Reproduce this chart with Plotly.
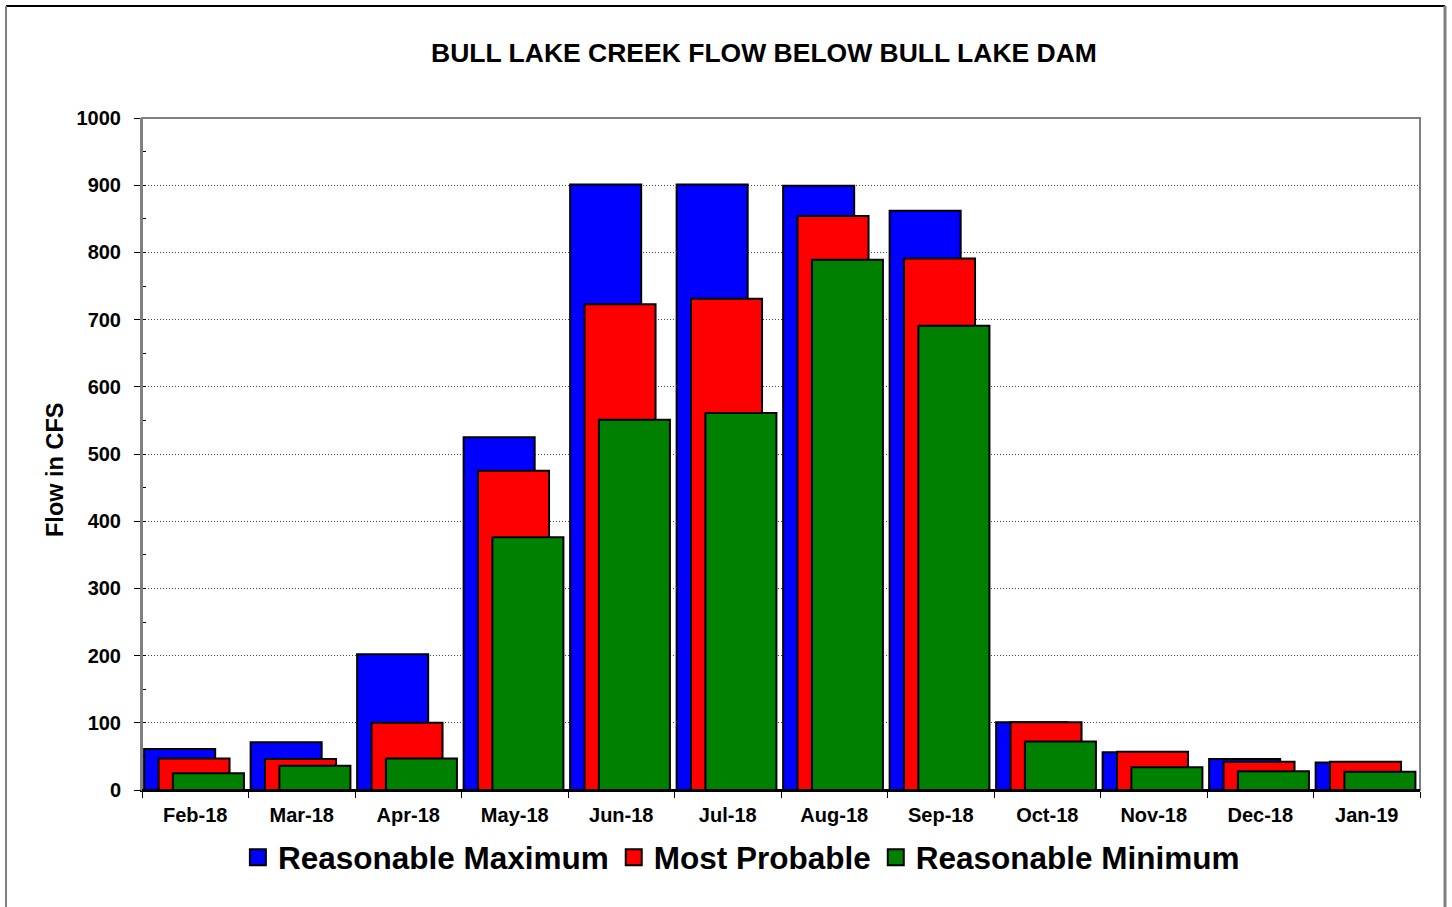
import plotly.graph_objects as go

# Monthly flow forecast, Bull Lake Creek below Bull Lake Dam (cfs)
months = ["Feb-18", "Mar-18", "Apr-18", "May-18", "Jun-18", "Jul-18",
          "Aug-18", "Sep-18", "Oct-18", "Nov-18", "Dec-18", "Jan-19"]
reasonable_max = [61, 71, 202, 525, 901, 901, 899, 862, 101, 56, 46, 41]
most_probable = [47, 46, 100, 475, 723, 731, 854, 791, 101, 57, 42, 42]
reasonable_min = [25, 36, 47, 376, 551, 561, 789, 691, 72, 34, 28, 27]

series = [
    ("Reasonable Maximum", reasonable_max, "#0000FF", -0.48),
    ("Most Probable", most_probable, "#FF0000", -0.345),
    ("Reasonable Minimum", reasonable_min, "#008000", -0.21),
]

FONT = "Arial, 'Liberation Sans', Helvetica, sans-serif"
BAR_W = 0.667

fig = go.Figure()
for name, vals, color, off in series:
    fig.add_trace(go.Bar(
        x=months, y=vals, name=name, showlegend=False,
        offset=off, width=BAR_W,
        marker=dict(color=color, line=dict(color="black", width=2)),
        hovertemplate="%{x}: %{y} cfs<extra>" + name + "</extra>",
    ))

# Legend entries with larger square swatches
for name, vals, color, off in series:
    fig.add_trace(go.Scatter(
        x=[None], y=[None], mode="markers", name="<b>" + name + "</b>",
        marker=dict(symbol="square", size=16, color=color,
                    line=dict(color="black", width=2)),
    ))

fig.update_layout(
    width=1452, height=907,
    margin=dict(l=142, r=32, t=118, b=117),
    paper_bgcolor="white", plot_bgcolor="white",
    barmode="overlay",
    font=dict(family=FONT, color="black"),
    title=dict(text="<b>BULL LAKE CREEK FLOW BELOW BULL LAKE DAM</b>",
               font=dict(size=26.5, family=FONT, color="black"),
               x=764 / 1452, xanchor="center",
               y=1 - 53 / 907, yanchor="middle"),
    legend=dict(orientation="h", x=0.469, xanchor="center",
                y=-0.1, yanchor="middle",
                font=dict(size=31.5, family=FONT, color="black"),
                itemclick=False, itemdoubleclick=False),
    xaxis=dict(
        type="category", tickson="boundaries",
        ticks="outside", ticklen=6, tickcolor="black", tickwidth=1,
        showline=True, linecolor="black", linewidth=2,
        tickfont=dict(size=20, family=FONT, color="black"),
        tickprefix="<b>", ticksuffix="</b>",
        ticklabelstandoff=6,
        showgrid=False, range=[-0.5, 11.5],
    ),
    yaxis=dict(
        range=[0, 1000], dtick=100, tick0=0,
        ticks="outside", ticklen=6, tickcolor="black", tickwidth=1,
        minor=dict(dtick=50, ticks="inside", ticklen=4, tickcolor="black",
                   showgrid=False),
        showline=True, linecolor="#808080", linewidth=2,
        showgrid=True, gridcolor="#444444", gridwidth=1, griddash="1px,2px",
        tickfont=dict(size=20, family=FONT, color="black"),
        tickprefix="<b>", ticksuffix="</b>",
        ticklabelstandoff=9,
        zeroline=False,
    ),
)

# Y-axis title, set slightly below the plot centre
fig.add_annotation(text="<b>Flow in CFS</b>", textangle=-90,
                   xref="paper", yref="paper",
                   x=(55 - 142) / 1278, y=(790 - 470) / 672,
                   xanchor="center", yanchor="middle", showarrow=False,
                   font=dict(size=23.5, family=FONT, color="black"))

# Plot-area frame (top and right edges)
fig.add_shape(type="rect", xref="paper", yref="paper", x0=0, x1=1, y0=0, y1=1,
              line=dict(color="#808080", width=2), layer="above")
# Bottom axis drawn over the frame
fig.add_shape(type="line", xref="paper", yref="paper", x0=0, x1=1, y0=0, y1=0,
              line=dict(color="black", width=2), layer="above")

# Outer chart border
px_l, px_r, px_t, px_b = 6, 1445, 6, 930
def fx(p):
    return (p - 142) / 1278
def fy(p):
    return (790 - p) / 672
fig.add_shape(type="line", xref="paper", yref="paper",
              x0=fx(px_l), x1=fx(px_r), y0=fy(px_t), y1=fy(px_t),
              line=dict(color="black", width=2))
fig.add_shape(type="line", xref="paper", yref="paper",
              x0=fx(px_l), x1=fx(px_l), y0=fy(px_t), y1=fy(px_b),
              line=dict(color="#808080", width=2))
fig.add_shape(type="line", xref="paper", yref="paper",
              x0=fx(px_r), x1=fx(px_r), y0=fy(px_t), y1=fy(px_b),
              line=dict(color="#808080", width=3))

fig.write_html("out.html")
